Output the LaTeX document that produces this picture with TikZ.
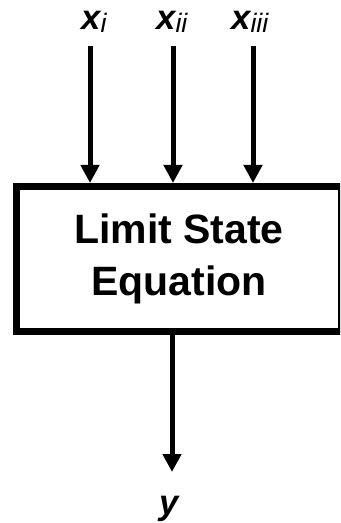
\documentclass[tikz,border=0pt]{standalone}
\usepackage{fontspec}
\setmainfont{Liberation Sans}
\usetikzlibrary{arrows.meta,positioning}
\begin{document}
\begin{tikzpicture}[
  x=0.75pt,y=-0.75pt,
  lbl/.style={anchor=base west,inner sep=0pt,font=\fontsize{26}{30}\selectfont\bfseries\itshape},
  lse/.style={draw,line width=5.25pt,minimum width=243.75pt,minimum height=108.75pt,align=center,inner sep=0pt,font=\fontsize{30.75}{39}\selectfont\bfseries},
  arr/.style={-{Triangle[width=13.5pt,length=13.5pt]},line width=3.75pt}
]
  \useasboundingbox (0,0) rectangle (340,523);
  \clip (0,0) rectangle (340,523);
  \node[lse] (eq) at (179,259) {Limit State\\Equation};
  \node[lbl] (xi) at (81,30) {x\raisebox{-2pt}{\fontsize{20}{22}\selectfont\mdseries i}};
  \node[lbl] (xii) at (156,30) {x\raisebox{-2pt}{\fontsize{20}{22}\selectfont\mdseries ii}};
  \node[lbl] (xiii) at (231,30) {x\raisebox{-2pt}{\fontsize{20}{22}\selectfont\mdseries iii}};
  \coordinate (t1) at (90,46);
  \coordinate (t2) at (173,46);
  \coordinate (t3) at (253,46);
  \foreach \t in {t1,t2,t3}{\draw[arr] (\t) -- (\t |- eq.north);}
  \coordinate (b) at (172,472);
  \draw[arr] (b |- eq.south) -- (b);
  \node[lbl] (y) at (159,514) {y};
\end{tikzpicture}
\end{document}
